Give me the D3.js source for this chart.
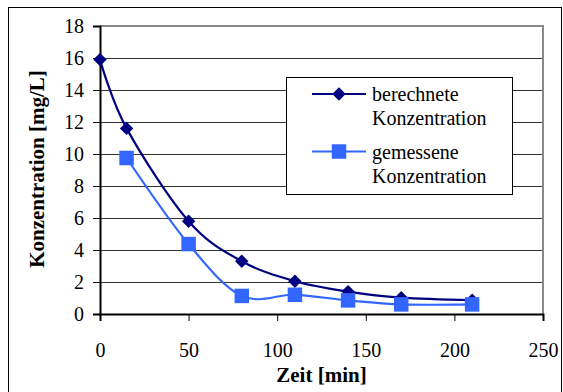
<!DOCTYPE html>
<html>
<head>
<meta charset="utf-8">
<script src="https://cdn.jsdelivr.net/npm/d3@7"></script>
<style>
  html, body { margin: 0; padding: 0; background: #fff; }
  svg { display: block; }
  text { font-family: "Liberation Serif", "Times New Roman", Tinos, serif; fill: #000; }
</style>
</head>
<body>
<svg id="chart" width="563" height="392"></svg>
<script>
// Time points [min]
const zeit = [0, 15, 50, 80, 110, 140, 170, 210];
// Calculated concentration [mg/L]
const berechnet = [15.9, 11.6, 5.8, 3.3, 2.05, 1.4, 1.02, 0.86];
// Measured concentration [mg/L] (no sample at t = 0)
const gemessenZeit = [15, 50, 80, 110, 140, 170, 210];
const gemessen = [9.75, 4.37, 1.13, 1.2, 0.85, 0.6, 0.6];

const xTicks = [0, 50, 100, 150, 200, 250];
const yTicks = [0, 2, 4, 6, 8, 10, 12, 14, 16, 18];

const seriesNames = [["berechnete", "Konzentration"], ["gemessene", "Konzentration"]];
const colors = ["#000080", "#3366FF"];

const SERIF = '"Liberation Serif", "Times New Roman", Tinos, serif';
const svg = d3.select("#chart");

// Outer chart frame
svg.append("rect")
  .attr("x", 8.5).attr("y", 7.5)
  .attr("width", 553).attr("height", 392)
  .attr("fill", "#fff").attr("stroke", "#000").attr("stroke-width", 1);

const plot = { left: 100, right: 543, top: 26, bottom: 314 };

const x = d3.scaleLinear().domain([0, 250]).range([plot.left, plot.right]);
const y = d3.scaleLinear().domain([0, 18]).range([plot.bottom, plot.top]);

// Horizontal gridlines
svg.append("g")
  .selectAll("line")
  .data(yTicks.filter(d => d > 0 && d < 18))
  .join("line")
  .attr("x1", plot.left).attr("x2", plot.right)
  .attr("y1", d => y(d) + 0.5).attr("y2", d => y(d) + 0.5)
  .attr("stroke", "#333").attr("stroke-width", 1);

// Plot area border (top and right in gray)
svg.append("path")
  .attr("d", `M${plot.left},${plot.top}H${plot.right}V${plot.bottom}`)
  .attr("fill", "none").attr("stroke", "#888").attr("stroke-width", 2);

// Y axis
const yAxis = svg.append("g")
  .attr("transform", `translate(${plot.left},0)`)
  .call(d3.axisLeft(y).tickValues(yTicks).tickSize(7).tickPadding(9).tickFormat(d3.format("d")));
yAxis.select(".domain").attr("stroke", "#000").attr("stroke-width", 2);
yAxis.selectAll(".tick line").attr("stroke", "#000");
yAxis.selectAll("text").attr("font-size", 20).style("font-family", SERIF).attr("fill", "#000");

// X axis
const xAxis = svg.append("g")
  .attr("transform", `translate(0,${plot.bottom})`)
  .call(d3.axisBottom(x).tickValues(xTicks).tickSize(7).tickPadding(22).tickFormat(d3.format("d")));
xAxis.select(".domain").attr("stroke", "#000").attr("stroke-width", 2);
xAxis.selectAll(".tick line").attr("stroke", "#000");
xAxis.selectAll("text").attr("font-size", 20).style("font-family", SERIF).attr("fill", "#000");

// Axis titles
svg.append("text")
  .attr("x", (plot.left + plot.right) / 2).attr("y", 382)
  .attr("text-anchor", "middle")
  .attr("font-size", 21).attr("font-weight", "bold")
  .style("font-family", SERIF)
  .text("Zeit [min]");

svg.append("text")
  .attr("transform", `translate(44,169) rotate(-90)`)
  .attr("text-anchor", "middle")
  .attr("font-size", 21).attr("font-weight", "bold")
  .style("font-family", SERIF)
  .text("Konzentration [mg/L]");

// Smoothed series lines
const line = d3.line()
  .x(d => x(d[0])).y(d => y(d[1]))
  .curve(d3.curveCatmullRom.alpha(0));

const calcData = zeit.map((t, i) => [t, berechnet[i]]);
const measData = gemessenZeit.map((t, i) => [t, gemessen[i]]);

const diamond = d3.symbol().type(d3.symbolSquare).size(90);
const square = d3.symbol().type(d3.symbolSquare).size(210);

// Calculated series: line + diamonds
svg.append("path").datum(calcData)
  .attr("d", line).attr("fill", "none")
  .attr("stroke", colors[0]).attr("stroke-width", 2.2);
svg.append("g").selectAll("path")
  .data(calcData).join("path")
  .attr("transform", d => `translate(${x(d[0])},${y(d[1])}) rotate(45)`)
  .attr("d", diamond).attr("fill", colors[0]);

// Measured series: line + squares
svg.append("path").datum(measData)
  .attr("d", line).attr("fill", "none")
  .attr("stroke", colors[1]).attr("stroke-width", 2.2);
svg.append("g").selectAll("path")
  .data(measData).join("path")
  .attr("transform", d => `translate(${x(d[0])},${y(d[1])})`)
  .attr("d", square).attr("fill", colors[1]);

// Legend
const lg = svg.append("g");
lg.append("rect")
  .attr("x", 286.5).attr("y", 77.5).attr("width", 226).attr("height", 117)
  .attr("fill", "#fff").attr("stroke", "#000").attr("stroke-width", 1);

const legendRows = [
  { y: 94, name: seriesNames[0], color: colors[0], type: "diamond" },
  { y: 151.5, name: seriesNames[1], color: colors[1], type: "square" }
];
legendRows.forEach(r => {
  lg.append("line")
    .attr("x1", 312).attr("x2", 366).attr("y1", r.y).attr("y2", r.y)
    .attr("stroke", r.color).attr("stroke-width", 2.2);
  lg.append("path")
    .attr("transform", r.type === "diamond" ? `translate(339,${r.y}) rotate(45)` : `translate(339,${r.y})`)
    .attr("d", r.type === "diamond" ? diamond : square)
    .attr("fill", r.color);
  const t = lg.append("text").attr("x", 372).attr("y", r.y + 7)
    .attr("font-size", 20).style("font-family", SERIF);
  t.append("tspan").attr("x", 372).text(r.name[0]);
  t.append("tspan").attr("x", 372).attr("dy", 24).text(r.name[1]);
});
</script>
</body>
</html>
